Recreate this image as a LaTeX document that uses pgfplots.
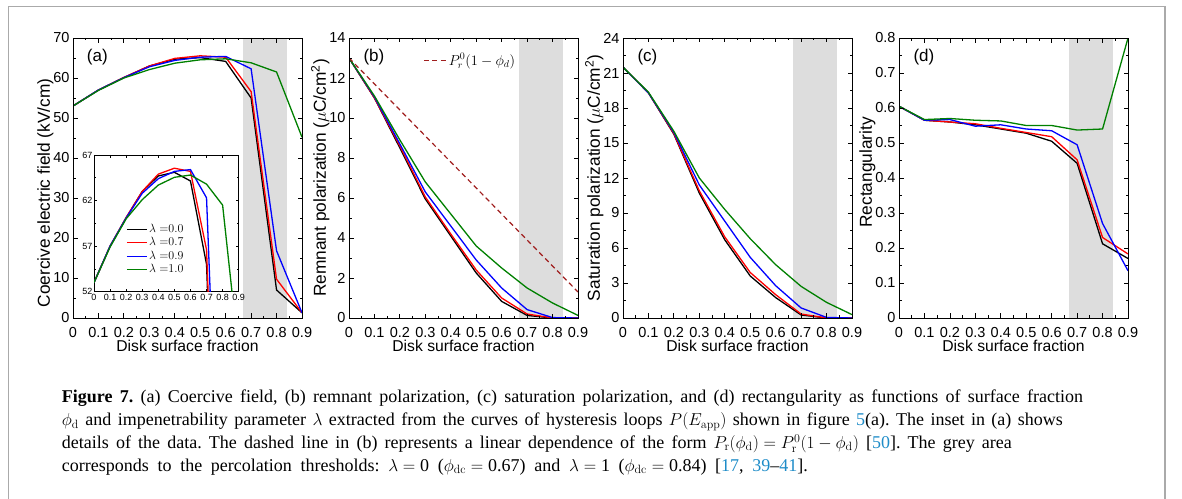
\documentclass[border=0pt]{standalone}
\usepackage[no-math]{fontspec}
\setmainfont{Liberation Sans}
\newfontfamily\capfont{Liberation Serif}
\usepackage{pgfplots}
\pgfplotsset{compat=1.18}
\usepackage{pgfplotstable}

\definecolor{cgreen}{RGB}{0,128,0}
\definecolor{cred}{RGB}{255,0,0}
\definecolor{cblue}{RGB}{0,0,255}
\definecolor{dashred}{RGB}{160,30,30}
\definecolor{shade}{RGB}{221,221,221}
\definecolor{framec}{RGB}{170,170,170}
\definecolor{reflink}{RGB}{30,140,200}

\newcommand{\tk}{\fontsize{14.5}{16}\selectfont}
\newcommand{\xl}{\fontsize{15.7}{18}\selectfont}
\newcommand{\yl}{\fontsize{17.3}{19}\selectfont}
\newcommand{\pl}{\fontsize{17}{19}\selectfont}

\pgfplotstableread{
x    b     r     u     g
0.0  53.0  53.0  53.0  53.0
0.1  57.0  57.0  57.0  56.9
0.2  60.1  60.15 60.1  60.0
0.3  63.0  63.0  62.8  62.1
0.4  64.7  64.9  64.4  63.7
0.5  65.1  65.55 65.2  64.55
0.6  64.15 65.2  65.4  64.8
0.7  55.0  56.6  62.3  63.8
0.8  7.0   9.7   16.8  61.5
0.9  1.3   1.3   1.3   45.2
}\dataA

\pgfplotstableread{
x    b     r     u     g
0.0  13.0  13.0  13.0  13.0
0.1  11.0  11.0  11.05 11.1
0.2  8.5   8.6   8.7   8.9
0.3  5.95  6.05  6.3   6.8
0.4  4.1   4.2   4.6   5.2
0.5  2.25  2.4   2.9   3.6
0.6  0.83  1.0   1.5   2.5
0.7  0.13  0.2   0.42  1.5
0.8  0.0   0.0   0.02  0.75
0.9  0.0   0.0   0.0   0.13
}\dataB

\pgfplotstableread{
x    b     r     u     g
0.0  21.5  21.5  21.5  21.5
0.1  19.3  19.3  19.3  19.35
0.2  15.75 15.8  15.9  16.0
0.3  10.7  10.9  11.4  12.0
0.4  6.7   6.95  8.3   9.3
0.5  3.6   3.9   5.2   6.8
0.6  1.75  2.0   2.77  4.57
0.7  0.26  0.34  0.86  2.71
0.8  0.0   0.0   0.05  1.34
0.9  0.0   0.0   0.0   0.29
}\dataC

\pgfplotstableread{
x    b     r     u     g
0.0  0.605 0.605 0.605 0.605
0.1  0.565 0.565 0.565 0.567
0.2  0.560 0.560 0.567 0.570
0.3  0.552 0.555 0.548 0.565
0.4  0.540 0.542 0.552 0.563
0.5  0.528 0.530 0.540 0.550
0.6  0.505 0.518 0.535 0.550
0.7  0.442 0.452 0.495 0.537
0.8  0.212 0.230 0.270 0.540
0.9  0.170 0.183 0.135 0.800
}\dataD

\pgfplotsset{
  panel/.style={
    scale only axis, width=229pt, height=280pt, anchor=south west,
    xmin=0, xmax=0.9,
    xtick={0,0.1,0.2,0.3,0.4,0.5,0.6,0.7,0.8,0.9},
    xticklabels={0,0.1,0.2,0.3,0.4,0.5,0.6,0.7,0.8,0.9},
    minor x tick num=1, minor y tick num=1,
    tick align=inside,
    major tick length=4.5pt, minor tick length=2.5pt,
    axis line style={line width=0.9pt},
    every tick/.style={black, line width=0.8pt},
    tick label style={font=\tk},
    xticklabel style={yshift=-6pt},
    /pgf/number format/assume math mode=true,
    xlabel={Disk surface fraction},
    xlabel style={font=\xl},
    xlabel shift=-5pt,
    ylabel style={font=\yl},
    ylabel shift=-7pt,
    axis on top,
    clip=true,
  },
  curve/.style={line width=1.3pt, line join=round},
  shadeplot/.style={draw=none, fill=shade, forget plot},
}

\newcommand{\capline}[3]{\node at (61.7,#1) {\frenchspacing\thickmuskip=5mu\medmuskip=4mu\makebox[#2pt][s]{#3}};}

\begin{document}
\begin{tikzpicture}[x=1pt,y=1pt]
\useasboundingbox (0,0) rectangle (1182,498);
\draw[framec, line width=1.6pt] (8.5,-5) -- (8.5,491.5) -- (1165,491.5) -- (1165,-5);

% (a)
\begin{axis}[panel, at={(73pt,180pt)}, ymin=0, ymax=70, ytick={0,10,...,70},
  ylabel={Coercive electric field (kV/cm)},
  ylabel style={at={(ticklabel cs:0.447)}}]
\addplot[shadeplot] coordinates {(0.67,70) (0.84,70)} \closedcycle;
\addplot[curve, black] table[x=x,y=b] {\dataA};
\addplot[curve, cred] table[x=x,y=r] {\dataA};
\addplot[curve, cblue] table[x=x,y=u] {\dataA};
\addplot[curve, cgreen] table[x=x,y=g] {\dataA};
\node[anchor=west, inner sep=0, font=\pl] at (rel axis cs:0.06,0.931) {(a)};
\end{axis}

% inset
\begin{axis}[scale only axis, width=144.7pt, height=136.7pt, anchor=south west,
  at={(94pt,206.3pt)},
  xmin=0, xmax=0.9, ymin=52, ymax=67,
  xtick={0,0.1,0.2,0.3,0.4,0.5,0.6,0.7,0.8,0.9},
  xticklabels={0,0.1,0.2,0.3,0.4,0.5,0.6,0.7,0.8,0.9},
  ytick={52,57,62,67}, minor y tick num=1,
  tick align=inside, major tick length=3pt, minor tick length=1.8pt,
  axis line style={line width=0.8pt},
  every tick/.style={black, line width=0.7pt},
  tick label style={font=\fontsize{9}{10}\selectfont},
  xticklabel style={inner sep=2pt},
  yticklabel style={inner sep=1.5pt},
  /pgf/number format/assume math mode=true,
  axis background/.style={fill=white},
  clip=true,
  legend style={at={(rel axis cs:0.215,0.515)}, anchor=north west, draw=none, fill=none,
    font=\fontsize{11.5}{12}\selectfont, inner sep=1pt,
    nodes={inner sep=1.5pt, text height=8.5pt, text depth=2pt}},
  legend cell align=left,
  legend image code/.code={\draw[#1, line width=1.3pt] (0pt,0pt) -- (20pt,0pt);},
]
\addplot[curve, black] table[x=x,y=b] {\dataA};
\addlegendentry{$\lambda\;{=}0.0$}
\addplot[curve, cred] table[x=x,y=r] {\dataA};
\addlegendentry{$\lambda\;{=}0.7$}
\addplot[curve, cblue] table[x=x,y=u] {\dataA};
\addlegendentry{$\lambda\;{=}0.9$}
\addplot[curve, cgreen] table[x=x,y=g] {\dataA};
\addlegendentry{$\lambda\;{=}1.0$}
\end{axis}

% (b)
\begin{axis}[panel, at={(349pt,180pt)}, ymin=0, ymax=14, ytick={0,2,...,14},
  ylabel={Remnant polarization ($\mu$C/cm\textsuperscript{2})},
  legend style={at={(rel axis cs:0.31,0.921)}, anchor=west, draw=none, fill=none,
    font=\fontsize{14.5}{16}\selectfont, nodes={inner sep=1.5pt},
    /tikz/every even column/.append style={column sep=3pt}},
  legend image code/.code={\draw[#1] (0pt,0pt) -- (23pt,0pt);},
]
\addplot[shadeplot] coordinates {(0.67,14) (0.84,14)} \closedcycle;
\addplot[curve, black, forget plot] table[x=x,y=b] {\dataB};
\addplot[curve, cred, forget plot] table[x=x,y=r] {\dataB};
\addplot[curve, cblue, forget plot] table[x=x,y=u] {\dataB};
\addplot[curve, cgreen, forget plot] table[x=x,y=g] {\dataB};
\addplot[line width=1.2pt, dashred, dash pattern=on 5pt off 3.5pt] coordinates {(0,13) (0.9,1.3)};
\addlegendentry{$P_r^0(1-\phi_d)$}
\node[anchor=west, inner sep=0, font=\pl] at (rel axis cs:0.0625,0.931) {(b)};
\end{axis}

% (c)
\begin{axis}[panel, at={(623pt,180pt)}, ymin=0, ymax=24, ytick={0,3,...,24},
  ylabel={Saturation polarization ($\mu$C/cm\textsuperscript{2})}]
\addplot[shadeplot] coordinates {(0.67,24) (0.84,24)} \closedcycle;
\addplot[curve, black] table[x=x,y=b] {\dataC};
\addplot[curve, cred] table[x=x,y=r] {\dataC};
\addplot[curve, cblue] table[x=x,y=u] {\dataC};
\addplot[curve, cgreen] table[x=x,y=g] {\dataC};
\node[anchor=west, inner sep=0, font=\pl] at (rel axis cs:0.0625,0.931) {(c)};
\end{axis}

% (d)
\begin{axis}[panel, at={(899pt,180pt)}, ymin=0, ymax=0.8,
  ytick={0,0.1,0.2,0.3,0.4,0.5,0.6,0.7,0.8},
  yticklabels={0,0.1,0.2,0.3,0.4,0.5,0.6,0.7,0.8},
  ylabel={Rectangularity},
  ylabel style={at={(ticklabel cs:0.52)}}]
\addplot[shadeplot] coordinates {(0.67,0.8) (0.84,0.8)} \closedcycle;
\addplot[curve, black] table[x=x,y=b] {\dataD};
\addplot[curve, cred] table[x=x,y=r] {\dataD};
\addplot[curve, cblue] table[x=x,y=u] {\dataD};
\addplot[curve, cgreen] table[x=x,y=g] {\dataD};
\node[anchor=west, inner sep=0, font=\pl] at (rel axis cs:0.0625,0.931) {(d)};
\end{axis}

% caption
\begin{scope}[every node/.style={anchor=base west, inner sep=0, font=\capfont\fontsize{18}{21}\selectfont}]
\capline{95.3}{1021}{\textbf{Figure 7.} (a) Coercive field, (b) remnant polarization, (c) saturation polarization, and (d) rectangularity as functions of surface fraction}
\capline{72.3}{1001}{$\phi_{\mathrm{d}}$ and impenetrability parameter $\lambda$ extracted from the curves of hysteresis loops $P(E_{\mathrm{app}})$ shown in figure \textcolor{reflink}{5}(a). The inset in (a) shows}
\capline{49.7}{950}{details of the data. The dashed line in (b) represents a linear dependence of the form $P_{\mathrm{r}}(\phi_{\mathrm{d}}) = P_{\mathrm{r}}^{0}(1 - \phi_{\mathrm{d}})$ [\textcolor{reflink}{50}]. The grey area}
\capline{27}{746}{corresponds to the percolation thresholds: $\lambda = {}$0 ($\phi_{\mathrm{dc}} = {}$0.67) and $\lambda = {}$1 ($\phi_{\mathrm{dc}} = {}$0.84) [\textcolor{reflink}{17}, \textcolor{reflink}{39}\textendash\textcolor{reflink}{41}].}
\end{scope}
\end{tikzpicture}
\end{document}
